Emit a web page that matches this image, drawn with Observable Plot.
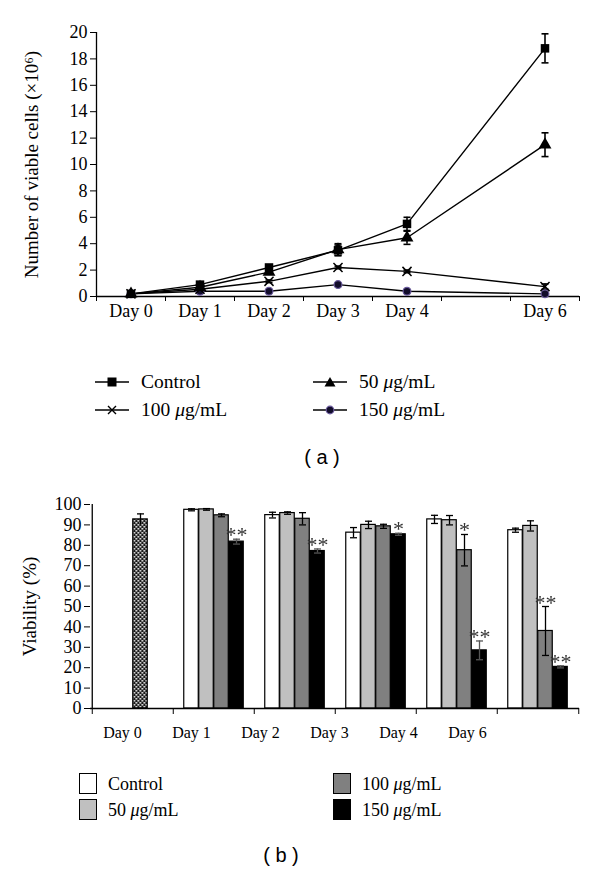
<!DOCTYPE html>
<html><head><meta charset="utf-8">
<script src="https://cdn.jsdelivr.net/npm/d3@7"></script>
<script src="https://cdn.jsdelivr.net/npm/@observablehq/plot@0.6"></script>
<style>
body{margin:0;background:#fff;}
#root{position:relative;width:600px;height:871px;background:#fff;font-family:"Liberation Serif",serif;color:#000;overflow:hidden}
.leg{position:absolute;font-size:18px;line-height:20px;height:20px;white-space:nowrap;display:flex;align-items:center}
.legA{font-size:19.5px}
.sw{width:18px;height:21px;box-sizing:border-box;border:1.5px solid #000;margin-right:11px}
.cap{position:absolute;font-family:"Liberation Sans",Arial,sans-serif;font-size:20px;transform:translate(-50%,-50%);white-space:pre}
</style></head><body><div id="root"></div>
<script>
// ---------- Data: panel (a) ----------
const days = [0, 1, 2, 3, 4, 6];
const xDomainA = [-0.5, 6.5];
const xTicksA = [-0.5, 0.5, 1.5, 2.5, 3.5, 4.5, 5.5, 6.5];
const yTicksA = [0, 2, 4, 6, 8, 10, 12, 14, 16, 18, 20];
const seriesNamesA = ["Control", "50 μg/mL", "100 μg/mL", "150 μg/mL"];
const cellsControl = [0.2, 0.9, 2.2, 3.5, 5.5, 18.8];
const cells50 = [0.2, 0.7, 1.85, 3.55, 4.45, 11.5];
const cells100 = [0.2, 0.55, 1.15, 2.2, 1.9, 0.75];
const cells150 = [0.2, 0.4, 0.4, 0.9, 0.4, 0.2];
const errControl = [0.05, 0.1, 0.15, 0.4, 0.5, 1.1];
const err50 = [0.05, 0.1, 0.15, 0.45, 0.5, 0.9];
const err100 = [0.02, 0.05, 0.1, 0.1, 0.1, 0.2];
const err150 = [0.02, 0.03, 0.03, 0.05, 0.03, 0.05];

// ---------- Data: panel (b) ----------
const dayNames = ["Day 0", "Day 1", "Day 2", "Day 3", "Day 4", "Day 6"];
const yTicksB = [0, 10, 20, 30, 40, 50, 60, 70, 80, 90, 100];
const seriesNamesB = ["Control", "50 μg/mL", "100 μg/mL", "150 μg/mL"];
const treatedDays = ["Day 1", "Day 2", "Day 3", "Day 4", "Day 6"];
const viaControl = [97.4, 94.8, 86.2, 92.7, 87.4];
const via50 = [97.6, 95.8, 90.0, 92.3, 89.5];
const via100 = [94.7, 93.0, 89.3, 77.6, 38.0];
const via150 = [81.8, 77.2, 85.4, 28.5, 20.4];
const viaErrControl = [0.5, 1.4, 2.5, 2.0, 1.0];
const viaErr50 = [0.4, 0.6, 1.8, 2.3, 2.5];
const viaErr100 = [0.7, 3.0, 1.0, 7.7, 12.0];
const viaErr150 = [1.2, 1.0, 0.5, 4.6, 0.5];
const sig100 = ["", "", "", "*", "**"];
const sig150 = ["**", "**", "*", "**", "**"];
const day0Viability = 92.7;
const day0Err = 2.7;

const root = document.getElementById("root");
const serif = '"Liberation Serif", "Times New Roman", serif';

// ---------- Panel (a) ----------
const valsA = [cellsControl, cells50, cells100, cells150];
const errsA = [errControl, err50, err100, err150];
const rowsA = seriesNamesA.flatMap((s, i) => days.map((d, j) => ({series: s, day: d, v: valsA[i][j], e: errsA[i][j]})));
const capSym = {draw(ctx) { ctx.moveTo(-3.5, 0); ctx.lineTo(3.5, 0); }};
const bySeries = s => rowsA.filter(r => r.series === s);

const plotA = Plot.plot({
  width: 600, height: 330,
  marginLeft: 96, marginRight: 21, marginTop: 32, marginBottom: 34,
  style: {fontFamily: serif, fontSize: "18px", background: "transparent", color: "#000", overflow: "visible"},
  x: {domain: xDomainA, axis: null},
  y: {domain: [0, 20], axis: null},
  marks: [
    Plot.axisY({ticks: yTicksA, tickSize: 6, tickPadding: 3, label: "Number of viable cells (×10⁶)", labelAnchor: "center", labelArrow: "none", labelOffset: 72}),
    Plot.axisX({ticks: xTicksA, tickSize: 5, tickFormat: () => "", label: null}),
    Plot.axisX({ticks: days, tickSize: 0, tickPadding: 8, tickFormat: d => "Day " + d, fontSize: 18, label: null}),
    Plot.ruleY([0], {stroke: "#000", strokeWidth: 1.3}),
    Plot.ruleX([xDomainA[0]], {y1: 0, y2: 20, stroke: "#000", strokeWidth: 1.3}),
    Plot.line(rowsA, {x: "day", y: "v", z: "series", stroke: "#000", strokeWidth: 1.4}),
    Plot.ruleX(rowsA, {x: "day", y1: d => d.v - d.e, y2: d => d.v + d.e, stroke: "#000", strokeWidth: 1.6}),
    Plot.dot(rowsA, {x: "day", y: d => d.v + d.e, symbol: capSym, stroke: "#000", strokeWidth: 1.6}),
    Plot.dot(rowsA, {x: "day", y: d => d.v - d.e, symbol: capSym, stroke: "#000", strokeWidth: 1.6}),
    Plot.dot(bySeries("150 μg/mL"), {x: "day", y: "v", symbol: "circle", r: 3.9, fill: "#120d2b", stroke: "#6a5a9c", strokeWidth: 1.2}),
    Plot.dot(bySeries("100 μg/mL"), {x: "day", y: "v", symbol: "times", r: 4.2, stroke: "#000", strokeWidth: 1.5}),
    Plot.dot(bySeries("50 μg/mL"), {x: "day", y: "v", symbol: "triangle", r: 4.8, fill: "#000", stroke: "none"}),
    Plot.dot(bySeries("Control"), {x: "day", y: "v", symbol: "square", r: 4.8, fill: "#000", stroke: "none"})
  ]
});
plotA.style.position = "absolute"; plotA.style.left = "0px"; plotA.style.top = "0px";
const labA = plotA.querySelector('[aria-label="y-axis label"]');
if (labA) labA.style.fontSize = "19px";
root.appendChild(plotA);

// legend (a)
const symSvg = {
  "Control": '<rect x="12.5" y="3.5" width="9" height="9" fill="#000"/>',
  "50 μg/mL": '<polygon points="17,3 22.5,12.5 11.5,12.5" fill="#000"/>',
  "100 μg/mL": '<path d="M13,4L21,12M21,4L13,12" stroke="#000" stroke-width="1.4" fill="none"/>',
  "150 μg/mL": '<circle cx="17" cy="8" r="3.8" fill="#120d2b" stroke="#6a5a9c" stroke-width="1.2"/>'
};
const legA = [["Control", 95, 382], ["100 μg/mL", 95, 410], ["50 μg/mL", 313, 382], ["150 μg/mL", 313, 410]];
for (const [name, x, y] of legA) {
  const d = document.createElement("div");
  d.className = "leg legA";
  d.style.left = x + "px"; d.style.top = (y - 10) + "px";
  const label = name.replace("μ", "<i>μ</i>");
  d.innerHTML = `<svg width="34" height="16" style="margin-right:12px"><line x1="0" y1="8" x2="34" y2="8" stroke="#000" stroke-width="1.5"/>${symSvg[name]}</svg><span>${label}</span>`;
  root.appendChild(d);
}
const capA = document.createElement("div");
capA.className = "cap"; capA.textContent = "( a )";
capA.style.left = "322px"; capA.style.top = "457px";
root.appendChild(capA);

// ---------- Panel (b) ----------
const valsB = [viaControl, via50, via100, via150];
const errsB = [viaErrControl, viaErr50, viaErr100, viaErr150];
const fillsB = ["#ffffff", "#c0c0c0", "#808080", "#000000"];
const sigsB = [null, null, sig100, sig150];
const mL = 90, mR = 21;
const bw = (600 - mL - mR) / dayNames.length;
const barW = 15;
const inset = (bw - barW) / 2;
const marksB = [
  Plot.axisY({ticks: yTicksB, tickSize: 6, tickPadding: 3, label: "Viability (%)", labelAnchor: "center", labelArrow: "none", labelOffset: 68}),
  Plot.axisX({tickSize: 6, tickFormat: () => "", dx: -bw / 2, label: null}),
  Plot.axisX({ticks: [dayNames[dayNames.length - 1]], tickSize: 6, tickFormat: () => "", dx: bw / 2, label: null})
];
seriesNamesB.forEach((s, i) => {
  const rows = treatedDays.map((d, j) => ({day: d, v: valsB[i][j], e: errsB[i][j], sig: sigsB[i] ? sigsB[i][j] : ""}));
  const off = (i - 1.5) * barW;
  const ec = i === 3 ? "#555" : "#000";
  marksB.push(
    Plot.barY(rows, {x: "day", y: "v", fill: fillsB[i], stroke: "#000", strokeWidth: 1.2, insetLeft: inset, insetRight: inset, dx: off}),
    Plot.ruleX(rows, {x: "day", y1: d => d.v - d.e, y2: d => d.v + d.e, stroke: ec, strokeWidth: 1.3, dx: off}),
    Plot.dot(rows, {x: "day", y: d => d.v + d.e, symbol: capSym, stroke: ec, strokeWidth: 1.3, dx: off}),
    Plot.dot(rows, {x: "day", y: d => d.v - d.e, symbol: capSym, stroke: ec, strokeWidth: 1.3, dx: off}),
    Plot.text(rows.filter(r => r.sig), {x: "day", y: d => d.v + d.e, text: "sig", dx: off, dy: 3, lineAnchor: "bottom", fontSize: 22, fill: "#333", fontFamily: serif})
  );
});
const day0Row = [{day: dayNames[0], v: day0Viability, e: day0Err}];
const off0 = 0.5 * barW;
marksB.push(
  Plot.barY(day0Row, {x: "day", y: "v", fill: "url(#checker)", stroke: "#000", strokeWidth: 1.2, insetLeft: inset, insetRight: inset, dx: off0}),
  Plot.ruleX(day0Row, {x: "day", y1: d => d.v - d.e, y2: d => d.v + d.e, stroke: "#000", strokeWidth: 1.3, dx: off0}),
  Plot.dot(day0Row, {x: "day", y: d => d.v + d.e, symbol: capSym, stroke: "#000", strokeWidth: 1.3, dx: off0}),
  Plot.ruleY([0], {stroke: "#000", strokeWidth: 1.3}),
  Plot.ruleX([dayNames[0]], {y1: 0, y2: 100, stroke: "#000", strokeWidth: 1.3, dx: -bw / 2})
);
const plotB = Plot.plot({
  width: 600, height: 258,
  marginLeft: mL, marginRight: mR, marginTop: 34, marginBottom: 20,
  style: {fontFamily: serif, fontSize: "18px", background: "transparent", color: "#000", overflow: "visible"},
  x: {domain: dayNames, padding: 0, axis: null},
  y: {domain: [0, 100], axis: null},
  marks: marksB
});
plotB.insertAdjacentHTML("afterbegin",
  '<defs><pattern id="checker" width="4" height="4" patternUnits="userSpaceOnUse"><rect width="4" height="4" fill="#1a1a1a"/><rect x="0" y="0" width="1.6" height="1.6" fill="#fff"/><rect x="2" y="2" width="1.6" height="1.6" fill="#fff"/></pattern></defs>');
// render the significance asterisks with greyscale antialiasing
plotB.querySelectorAll("text").forEach(t => {
  if (/^\*+$/.test(t.textContent)) t.parentNode.style.filter = "grayscale(1)";
});
plotB.style.position = "absolute"; plotB.style.left = "0px"; plotB.style.top = "470px";
const labB = plotB.querySelector('[aria-label="y-axis label"]');
if (labB) labB.style.fontSize = "19px";
root.appendChild(plotB);

// day labels under panel (b), placed as in the original figure
const plotBLabels = Plot.plot({
  width: 600, height: 41, marginTop: 1, marginBottom: 40, marginLeft: 120, marginRight: 132,
  style: {fontFamily: serif, fontSize: "16px", background: "transparent", color: "#000", overflow: "visible"},
  x: {type: "point", domain: dayNames, padding: 0, axis: null},
  marks: [Plot.axisX({anchor: "bottom", tickSize: 0, tickPadding: 18, label: null})]
});
plotBLabels.style.position = "absolute"; plotBLabels.style.left = "0px"; plotBLabels.style.top = "707px";
root.appendChild(plotBLabels);

// legend (b)
const legB = [["Control", 79, 773, 0], ["50 μg/mL", 79, 799, 1], ["100 μg/mL", 333, 773, 2], ["150 μg/mL", 333, 799, 3]];
for (const [name, x, y, i] of legB) {
  const d = document.createElement("div");
  d.className = "leg";
  d.style.left = x + "px"; d.style.top = y + "px"; d.style.height = "21px";
  d.innerHTML = `<div class="sw" style="background:${fillsB[i]}"></div><span>${name.replace("μ", "<i>μ</i>")}</span>`;
  root.appendChild(d);
}
const capB = document.createElement("div");
capB.className = "cap"; capB.textContent = "( b )";
capB.style.left = "281px"; capB.style.top = "855px";
root.appendChild(capB);
</script>
</body></html>
